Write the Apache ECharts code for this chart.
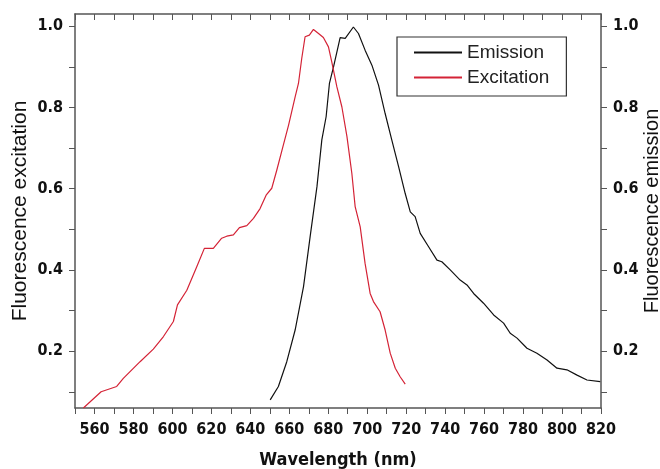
<!DOCTYPE html>
<html>
<head>
<meta charset="utf-8">
<script src="https://cdn.jsdelivr.net/npm/echarts@6/dist/echarts.min.js"></script>
<style>
html,body{margin:0;padding:0;background:#fff;}
#chart{width:660px;height:469px;}
</style>
</head>
<body>
<div id="chart"></div>
<script>
// Excitation spectrum: wavelength (nm), normalized intensity
const excitationWl = [554.3,563.4,571.4,574.8,583.4,590.2,595.4,600.5,602.6,607.4,612.5,616.4,621.0,625.3,627.9,631.3,634.4,638.2,641.6,645.0,648.1,651.0,653.6,656.7,659.6,663.0,664.7,666.4,668.1,670.3,672.4,675.0,677.5,680.1,681.8,684.4,687.0,689.6,692.1,693.8,696.4,698.9,701.5,703.2,706.6,709.2,711.8,714.4,716.9,719.5];
const excitationVal = [0.060,0.100,0.113,0.133,0.174,0.205,0.236,0.273,0.314,0.350,0.408,0.453,0.453,0.478,0.483,0.486,0.504,0.509,0.527,0.551,0.584,0.601,0.646,0.703,0.756,0.826,0.859,0.921,0.974,0.978,0.992,0.982,0.972,0.949,0.912,0.851,0.801,0.728,0.638,0.556,0.506,0.416,0.342,0.322,0.297,0.252,0.195,0.158,0.137,0.119];

// Emission spectrum: wavelength (nm), normalized intensity
const emissionWl = [650.2,654.4,658.7,663.0,667.3,670.7,674.2,676.7,678.9,680.6,682.7,686.1,688.7,692.9,695.5,698.9,702.4,705.8,709.2,712.6,716.1,719.5,722.1,724.6,727.2,731.5,735.8,738.3,742.6,747.7,751.2,754.6,759.7,764.9,770.0,773.4,776.9,782.0,787.1,792.3,797.4,802.5,807.7,812.8,819.6];
const emissionVal = [0.080,0.113,0.174,0.252,0.359,0.482,0.605,0.720,0.777,0.859,0.900,0.972,0.970,0.998,0.982,0.941,0.904,0.855,0.785,0.720,0.654,0.588,0.543,0.531,0.490,0.457,0.424,0.420,0.400,0.375,0.363,0.342,0.318,0.289,0.269,0.244,0.232,0.207,0.195,0.178,0.158,0.154,0.141,0.129,0.125];

// Axis ticks
const yTicks = [0.1,0.2,0.3,0.4,0.5,0.6,0.7,0.8,0.9,1.0];
const yLabels = [0.2,0.4,0.6,0.8,1.0];

const seriesNames = ['Emission','Excitation'];
const seriesColors = ['#111111','#d42336'];

const pair = (xs, ys) => xs.map((x, i) => [x, ys[i]]);

const chart = echarts.init(document.getElementById('chart'), null, {renderer:'canvas'});
const axisColor = '#555555';
const labelFont = {fontFamily:'"DejaVu Sans Condensed","Liberation Sans Narrow","Liberation Sans",sans-serif', fontWeight:'bold', fontSize:16, color:'#111'};

const yAxisBase = (pos) => ({
  type:'value', position:pos, min:0.06, max:1.03,
  axisLine:{show:true, lineStyle:{color:axisColor, width:1.5}},
  axisTick:{show:true, inside:false, length:6, customValues:yTicks, lineStyle:{color:axisColor, width:1}},
  axisLabel:Object.assign({show:true, customValues:yLabels, margin:12, formatter:v=>v.toFixed(1)}, labelFont),
  splitLine:{show:false},
  nameLocation:'middle', nameRotate:90, nameMoveOverlap:false,
  nameTextStyle:{fontFamily:'"Liberation Sans",Arial,sans-serif', fontSize:21, color:'#111'}
});

const option = {
  animation:false,
  backgroundColor:'#fff',
  grid:{left:75, right:59, top:14, bottom:61, containLabel:false, outerBoundsMode:'none'},
  legend:{
    data:seriesNames, orient:'vertical', left:397, top:37,
    itemWidth:48, itemHeight:2, itemGap:6, icon:'rect',
    textStyle:{fontFamily:'"Liberation Sans",Arial,sans-serif', fontSize:19, color:'#222'},
    borderColor:'#333', borderWidth:1.2, padding:[6,17,9,17], backgroundColor:'#fff'
  },
  xAxis:[{
    type:'value', position:'bottom', min:550, max:820, interval:10,
    axisLine:{show:true, onZero:false, lineStyle:{color:axisColor, width:1.5}},
    axisTick:{show:true, inside:false, length:6, lineStyle:{color:axisColor}},
    axisLabel:Object.assign({show:true, margin:14, formatter:v=> (v%20===0 ? String(v) : '')}, labelFont),
    splitLine:{show:false},
    name:'Wavelength (nm)', nameLocation:'middle', nameGap:43,
    nameTextStyle:{fontFamily:'"DejaVu Sans Condensed","Liberation Sans",Arial,sans-serif', fontWeight:'bold', fontSize:18, color:'#111'}
  },{
    type:'value', position:'top', min:550, max:820, interval:10,
    axisLine:{show:true, onZero:false, lineStyle:{color:axisColor, width:1.5}},
    axisTick:{show:true, inside:true, length:6, lineStyle:{color:axisColor}},
    axisLabel:{show:false}, splitLine:{show:false}
  }],
  yAxis:[
    Object.assign(yAxisBase('left'), {name:'Fluorescence excitation', nameGap:44}),
    Object.assign(yAxisBase('right'), {name:'Fluorescence emission', nameGap:41,
      nameTextStyle:{fontFamily:'"Liberation Sans",Arial,sans-serif', fontSize:20, color:'#111'}})
  ],
  series:[
    {name:seriesNames[0], type:'line', xAxisIndex:0, yAxisIndex:1, data:pair(emissionWl, emissionVal),
     showSymbol:false, symbol:'none', lineStyle:{color:seriesColors[0], width:1.2}, itemStyle:{color:seriesColors[0]}},
    {name:seriesNames[1], type:'line', xAxisIndex:0, yAxisIndex:0, data:pair(excitationWl, excitationVal),
     showSymbol:false, symbol:'none', lineStyle:{color:seriesColors[1], width:1.2}, itemStyle:{color:seriesColors[1]}}
  ]
};
chart.setOption(option);
</script>
</body>
</html>
